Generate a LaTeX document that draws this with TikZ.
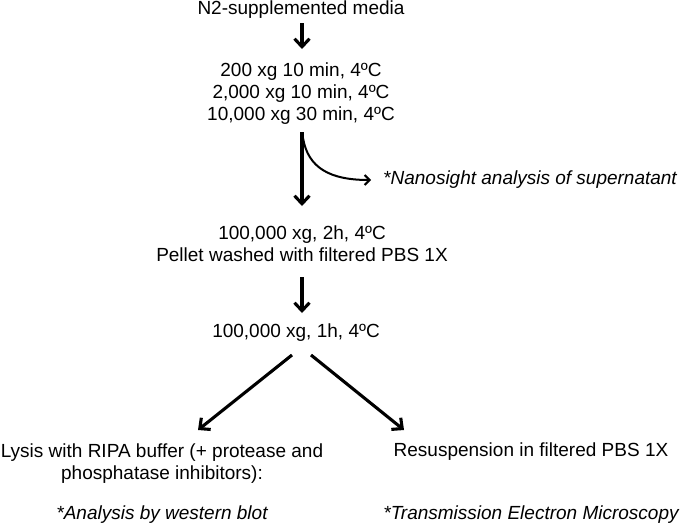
\documentclass[tikz,border=0pt]{standalone}
\usepackage{fontspec}
\setmainfont{Liberation Sans}
\usetikzlibrary{arrows.meta,calc}
\begin{document}
\begin{tikzpicture}[x=1pt,y=-1pt,
  txt/.style={inner sep=0pt,align=center,font=\fontsize{19}{22}\selectfont},
  arr/.style={line width=3.1pt,-{Straight Barb[length=8pt,width=15pt,line width=3.1pt]}},
  thinarr/.style={line width=2pt,-{Straight Barb[length=5pt,width=10pt,line width=2pt]}}]
\useasboundingbox (0,0) rectangle (682,528);
\node[txt] (n1) at (301,10) {N2-supplemented media};
\node[txt] (n2) at (301,94) {200 xg 10 min, 4ºC\\2,000 xg 10 min, 4ºC\\10,000 xg 30 min, 4ºC};
\node[txt] (n3) at (302,244) {100,000 xg, 2h, 4ºC\\Pellet washed with filtered PBS 1X};
\node[txt] (n4) at (296,333) {100,000 xg, 1h, 4ºC};
\node[txt] (lys) at (162,464) {Lysis with RIPA buffer (+ protease and\\phosphatase inhibitors):};
\node[txt,font=\fontsize{19}{22}\selectfont\itshape] (wb) at (162,515) {*Analysis by western blot};
\node[txt] (res) at (531,452) {Resuspension in filtered PBS 1X};
\node[txt,font=\fontsize{19}{22}\selectfont\itshape] (tem) at (531,515) {*Transmission Electron Microscopy};
\node[txt,font=\fontsize{19}{22}\selectfont\itshape,anchor=west] (nano) at (383,180) {*Nanosight analysis of supernatant};
\coordinate (a1s) at (302,23);
\coordinate (a1e) at (302,49);
\coordinate (a2s) at (302,132);
\coordinate (a2e) at (302,206);
\coordinate (br) at (303,138);
\coordinate (a3s) at (302,277);
\coordinate (a3e) at (302,313);
\coordinate (dls) at (292,355);
\coordinate (dle) at (198,430);
\coordinate (drs) at (311,355);
\coordinate (dre) at (404,430);
\draw[arr] (a1s) -- (a1e);
\draw[arr] (a2s) -- (a2e);
\draw[thinarr] (br) .. controls (308,168) and (330,180) .. ([xshift=-12pt]nano.west);
\draw[arr] (a3s) -- (a3e);
\draw[arr] (dls) -- (dle);
\draw[arr] (drs) -- (dre);
\end{tikzpicture}
\end{document}
